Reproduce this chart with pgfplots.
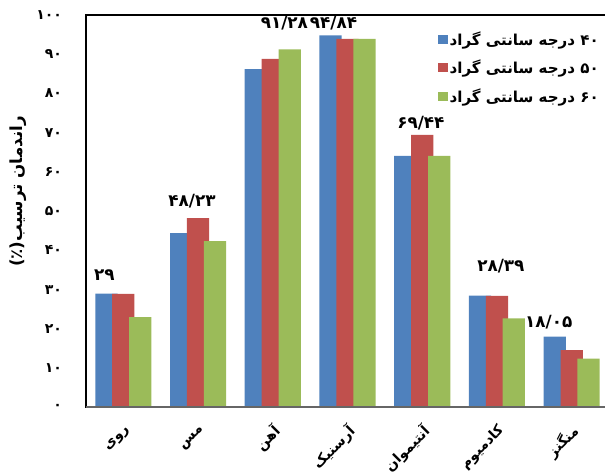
\documentclass[border=0pt]{standalone}
\usepackage{fontspec}
\usepackage{pgfplots}
\usepackage{pgfplotstable}
\pgfplotsset{compat=1.18}
\TeXXeTstate=1
\newfontfamily\fa[Script=Arabic]{DejaVu Sans}
\definecolor{sBlue}{HTML}{4F81BD}
\definecolor{sRed}{HTML}{C0504D}
\definecolor{sGreen}{HTML}{9BBB59}

% columns: category index, efficiency (%), value label, label offsets (pt)
\pgfplotstableread{
x  y      lab                   dx     dy
0  29     {\beginR ۲۹\endR}     -1.5   9.45
1  44.4   {}                    0      0
2  86.2   {}                    0      0
3  94.84  {\beginR ۹۴/۸۴\endR}  2.25   4.9
4  64.1   {}                    0      0
5  28.5   {}                    0      0
6  18.05  {\beginR ۱۸/۰۵\endR}  -4.5   6.4
}\tblForty
\pgfplotstableread{
x  y      lab                   dx     dy
0  28.9   {}                    0      0
1  48.23  {\beginR ۴۸/۲۳\endR}  -4.5   8.55
2  88.8   {}                    0      0
3  93.9   {}                    0      0
4  69.44  {\beginR ۶۹/۴۴\endR}  -1     4.95
5  28.39  {\beginR ۲۸/۳۹\endR}  3      18.15
6  14.6   {}                    0      0
}\tblFifty
\pgfplotstableread{
x  y      lab                   dx     dy
0  23.0   {}                    0      0
1  42.4   {}                    0      0
2  91.28  {\beginR ۹۱/۲۸\endR}  -4     15.4
3  93.9   {}                    0      0
4  64.1   {}                    0      0
5  22.7   {}                    0      0
6  12.4   {}                    0      0
}\tblSixty

\begin{document}
\begin{tikzpicture}
\begin{axis}[
  at={(0,0)}, anchor=south west,
  scale only axis,
  width=392.25pt, height=294.2pt,
  ybar=-4pt, bar width=16.7pt,
  xmin=-0.5, xmax=6.5, ymin=0, ymax=100,
  xtick={0,...,6},
  xticklabels={\beginR روی\endR,\beginR مس\endR,\beginR آهن\endR,\beginR آرسنیک\endR,\beginR آنتیموان\endR,\beginR کادمیوم\endR,\beginR منگنز\endR},
  ytick={0,10,...,100},
  yticklabels={۰,۱۰,۲۰,۳۰,۴۰,۵۰,۶۰,۷۰,۸۰,۹۰,۱۰۰},
  major tick length=0pt,
  tick label style={font=\fa\bfseries\fontsize{10.5}{12}\selectfont},
  % shift in page directions first, then turn the names about their right end
  xticklabel style={anchor=east, xshift=6pt, yshift=-13.5pt, rotate=45},
  yticklabel style={anchor=east, xshift=-14.5pt},
  every axis y label/.style={at={(axis description cs:0,0.55)}, xshift=-51pt, rotate=90, anchor=center,
    font=\fa\bfseries\fontsize{12.5}{14}\selectfont},
  ylabel={\beginR راندمان ترسیب(٪)\endR},
  axis line style={black, line width=1.2pt},
  legend style={at={(1,1)}, anchor=north east, xshift=-6pt, yshift=-10.5pt,
    draw=none, fill=none, inner sep=0pt, row sep=6.6pt,
    font=\fa\bfseries\fontsize{11.3}{13}\selectfont,
    nodes={inner sep=1.5pt}},
  legend cell align=left,
  legend image code/.code={\fill[#1] (-1pt,-3.5pt) rectangle (6pt,3.5pt);},
  nodes near coords, point meta=explicit symbolic,
  visualization depends on={\thisrow{dx} \as \ldx},
  visualization depends on={\thisrow{dy} \as \ldy},
  every node near coord/.append style={font=\fa\bfseries\fontsize{12.6}{15}\selectfont, black,
    anchor=base, inner sep=0pt, xshift=\ldx pt, yshift=\ldy pt},
]
\addplot[fill=sBlue, draw=none] table[x=x, y=y, meta=lab] {\tblForty};
\addplot[fill=sRed, draw=none] table[x=x, y=y, meta=lab] {\tblFifty};
\addplot[fill=sGreen, draw=none] table[x=x, y=y, meta=lab] {\tblSixty};
\legend{\beginR ۴۰ درجه سانتی گراد\endR,\beginR ۵۰ درجه سانتی گراد\endR,\beginR ۶۰ درجه سانتی گراد\endR}
\draw[gray!80!black, line width=1.5pt] (rel axis cs:0,0) -- (rel axis cs:1,0);
\end{axis}
\pgfresetboundingbox
\path[use as bounding box] (-64.5pt,-50pt) rectangle (389.25pt,305.5pt);
\end{tikzpicture}
\end{document}
